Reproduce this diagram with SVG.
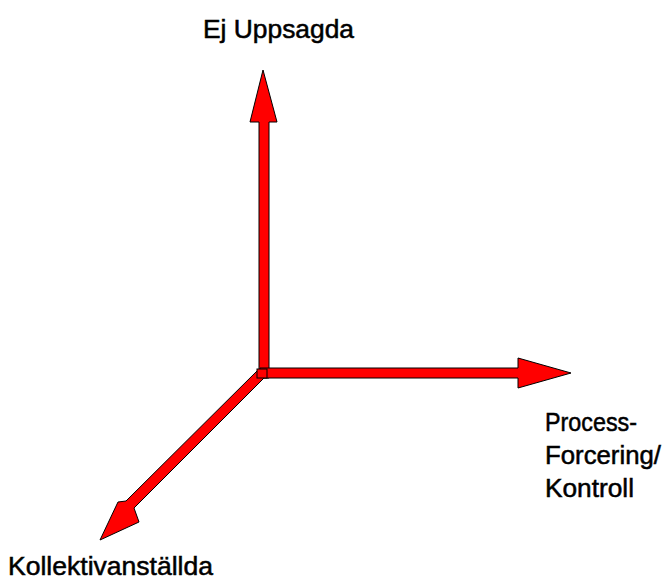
<svg xmlns="http://www.w3.org/2000/svg" width="663" height="579" viewBox="0 0 663 579">
<style>
.arr{fill:#ff0000;stroke:#000;stroke-width:1;stroke-linejoin:miter}
.lbl{font-family:"Liberation Sans",Arial,Helvetica,sans-serif;font-size:25px;fill:#000;stroke:#000;stroke-width:0.5px}
</style>
<rect width="663" height="579" fill="#fff"/>
<g id="connectors">
<polygon id="axis-y" class="arr" points="259,378 259,122 250,122 263,70 277,122 269,122 269,378"/>
<polygon id="axis-x" class="arr" points="260,368 518,368 518,358 571,373 518,388 518,378 260,378"/>
<polygon id="axis-z" class="arr" points="259,369 266,376 134,508 139,522 100,540 118,502 126,501"/>
<rect x="257" y="369" width="10" height="9" fill="#ff0000" stroke="#000" stroke-width="1"/>
</g>
<g id="label-y"><text class="lbl" x="203" y="38" textLength="151" lengthAdjust="spacingAndGlyphs">Ej Uppsagda</text></g>
<g id="label-x"><text class="lbl" x="545" y="431" textLength="92" lengthAdjust="spacingAndGlyphs">Process-</text><text class="lbl" x="545" y="464" textLength="116" lengthAdjust="spacingAndGlyphs">Forcering/</text><text class="lbl" x="545" y="497" textLength="89" lengthAdjust="spacingAndGlyphs">Kontroll</text></g>
<g id="label-z"><text class="lbl" x="8" y="575" textLength="205" lengthAdjust="spacingAndGlyphs">Kollektivanställda</text></g>
</svg>
